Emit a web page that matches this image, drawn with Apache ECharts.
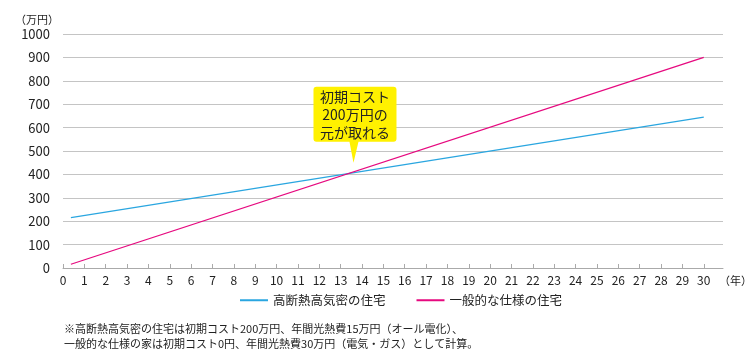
<!DOCTYPE html>
<html><head><meta charset="utf-8">
<script src="https://cdn.jsdelivr.net/npm/echarts@6/dist/echarts.min.js"></script>
<style>html,body{margin:0;padding:0;background:#fff}#c{width:750px;height:349px}</style>
</head><body><div id="c"></div>
<script>
const xTicks = [0,1,2,3,4,5,6,7,8,9,10,11,12,13,14,15,16,17,18,19,20,21,22,23,24,25,26,27,28,29,30];
const yTicks = [0,100,200,300,400,500,600,700,800,900,1000];
const highPerfName = '高断熱高気密の住宅';
const highPerf = [[0.37, 215], [30, 645]];
const normalName = '一般的な仕様の住宅';
const normal = [[0.37, 16], [30, 900]];
const calloutAt = [13.6, 450];
const calloutText = '初期コスト\n200万円の\n元が取れる';
const note = '※高断熱高気密の住宅は初期コスト200万円、年間光熱費15万円（オール電化）、\n一般的な仕様の家は初期コスト0円、年間光熱費30万円（電気・ガス）として計算。';

const FONT = '"Noto Sans CJK JP", "Noto Sans", sans-serif';
const chart = echarts.init(document.getElementById('c'), null, {renderer:'canvas'});
chart.setOption({
  animation:false,
  textStyle:{fontFamily:FONT},
  title:{text:note,left:59,top:316,textStyle:{fontSize:11,fontWeight:'normal',color:'#222',lineHeight:15,fontFamily:FONT}},
  legend:{
    top:289,left:235,itemGap:31,itemWidth:28,itemHeight:2,icon:'rect',
    textStyle:{fontSize:12.5,color:'#222',fontFamily:FONT},
    data:[{name:highPerfName},{name:normalName}]
  },
  grid:{left:63,right:27,top:34,bottom:81,outerBoundsMode:'none',containLabel:false},
  xAxis:{
    type:'value',min:0,max:30.9,
    name:'（年）',nameLocation:'end',nameGap:-4,
    nameTextStyle:{fontSize:11,color:'#222',verticalAlign:'top',padding:[7,0,0,0]},
    axisLine:{show:true,lineStyle:{color:'#aaa',width:1}},
    axisTick:{show:true,inside:true,length:4,customValues:xTicks,lineStyle:{color:'#aaa'}},
    axisLabel:{customValues:xTicks,fontSize:12,color:'#222',margin:6},
    splitLine:{show:false}
  },
  yAxis:{
    type:'value',min:0,max:1000,interval:100,
    name:'（万円）',nameLocation:'end',nameGap:9,
    nameTextStyle:{fontSize:11,color:'#222',align:'right',padding:[0,4,0,0]},
    axisLine:{show:false},axisTick:{show:false},
    axisLabel:{customValues:yTicks,formatter:function(v){return String(v);},fontSize:13,color:'#222',margin:13},
    splitLine:{show:true,lineStyle:{color:'#c4c4c4',width:1}}
  },
  series:[
    {name:highPerfName,type:'line',data:highPerf,symbol:'none',
     lineStyle:{color:'#2aa6e0',width:1.3},itemStyle:{color:'#2aa6e0'}},
    {name:normalName,type:'line',data:normal,symbol:'none',
     lineStyle:{color:'#e6097f',width:1.3},itemStyle:{color:'#e6097f'},
     markPoint:{
       silent:true,
       data:[{coord:calloutAt}],
       symbol:'path://M3,0 L80,0 Q83,0 83,3 L83,52 Q83,55 80,55 L45,55 L40,76 L36,55 L3,55 Q0,55 0,52 L0,3 Q0,0 3,0 Z',
       symbolSize:[83,76],symbolKeepAspect:false,symbolOffset:[1.5,-38],
       itemStyle:{color:'#fff100'},
       label:{show:true,formatter:calloutText,position:'inside',offset:[0,-10],
         fontSize:14,lineHeight:18,color:'#222',fontFamily:FONT}
     }}
  ]
});
</script></body></html>
